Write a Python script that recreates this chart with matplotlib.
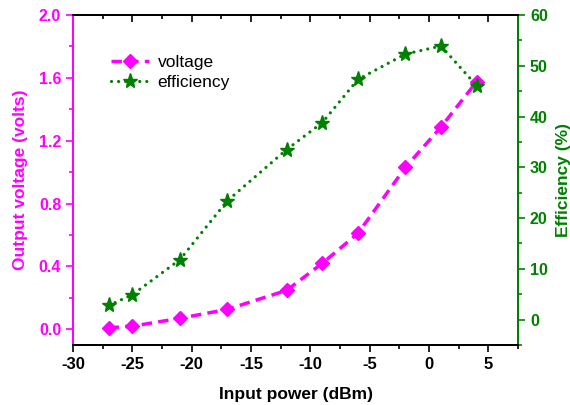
import numpy as np
import matplotlib.pyplot as plt
from matplotlib.ticker import MultipleLocator

plt.rcParams['font.family'] = ['Liberation Sans', 'DejaVu Sans']
plt.rcParams['axes.unicode_minus'] = False

# Измерения: входная мощность, выходное напряжение и КПД
power = [-27, -25, -21, -17, -12, -9, -6, -2, 1, 4]
voltage = [0.01, 0.02, 0.07, 0.127, 0.248, 0.42, 0.61, 1.03, 1.287, 1.575]
efficiency = [2.8, 4.9, 11.8, 23.4, 33.5, 38.8, 47.3, 52.3, 53.9, 46.1]

magenta = '#FF00FF'
green = '#008000'

fig = plt.figure(figsize=(5.7, 4.05), dpi=100)
ax = fig.add_axes([0.128, 0.148, 0.781, 0.815])
ax2 = ax.twinx()

l1, = ax.plot(power, voltage, color=magenta, linestyle=(0, (3, 1.8)), lw=2.5,
              marker='D', markersize=7, label='voltage')
l2, = ax2.plot(power, efficiency, color=green, linestyle=(0, (0.01, 2.2)), lw=2.3,
               dash_capstyle='round', marker='*', markersize=11, label='efficiency')

ax.set_xlim(-30, 7.5)
ax.set_ylim(-0.1, 2.0)
ax2.set_ylim(-5, 60)

ax.xaxis.set_major_locator(MultipleLocator(5))
ax.xaxis.set_minor_locator(MultipleLocator(2.5))
ax.yaxis.set_major_locator(MultipleLocator(0.4))
ax.yaxis.set_minor_locator(MultipleLocator(0.2))
ax2.yaxis.set_major_locator(MultipleLocator(10))
ax2.yaxis.set_minor_locator(MultipleLocator(5))
ax.yaxis.set_major_formatter(plt.FormatStrFormatter('%.1f'))

# Оси: левая — пурпурная, правая — зелёная
ax.tick_params(axis='x', which='both', direction='out', top=False, colors='black',
               labelsize=12, width=1.2)
ax.tick_params(axis='x', which='major', length=5)
ax.tick_params(axis='x', which='minor', length=3)
ax.tick_params(axis='y', which='both', direction='out', colors=magenta,
               labelsize=11.5, width=1.2)
ax.tick_params(axis='y', which='major', length=5)
ax.tick_params(axis='y', which='minor', length=3)
ax2.tick_params(axis='y', which='both', direction='out', colors=green,
                labelsize=11.5, width=1.2)
ax2.tick_params(axis='y', which='major', length=5)
ax2.tick_params(axis='y', which='minor', length=3)

# Зеркальные засечки сверху, направленные внутрь
top = ax.secondary_xaxis('top')
top.xaxis.set_major_locator(MultipleLocator(5))
top.xaxis.set_minor_locator(MultipleLocator(2.5))
top.tick_params(axis='x', which='both', direction='in', labeltop=False, width=1.2)
top.tick_params(axis='x', which='major', length=5)
top.tick_params(axis='x', which='minor', length=3)

for lab in ax.get_xticklabels() + ax.get_yticklabels() + ax2.get_yticklabels():
    lab.set_fontweight('bold')

ax.spines['left'].set_color(magenta)
ax2.spines['left'].set_color(magenta)
ax2.spines['right'].set_color(green)
ax.spines['right'].set_color(green)
for a in (ax, ax2):
    for s in a.spines.values():
        s.set_linewidth(1.4)
top.spines['top'].set_linewidth(1.4)

ax.set_xlabel('Input power (dBm)', fontsize=12.5, fontweight='bold', labelpad=11)
ax.set_ylabel('Output voltage (volts)', fontsize=12.5, fontweight='bold', color=magenta,
              labelpad=8)
ax2.set_ylabel('Efficiency (%)', fontsize=12.5, fontweight='bold', color=green, labelpad=6)

ax.legend(handles=[l1, l2], loc='upper left', bbox_to_anchor=(0.05, 0.927),
          frameon=False, fontsize=12.5, handlelength=2.2, handletextpad=0.5,
          labelspacing=0.3)

fig.savefig('out.png', dpi=100)
